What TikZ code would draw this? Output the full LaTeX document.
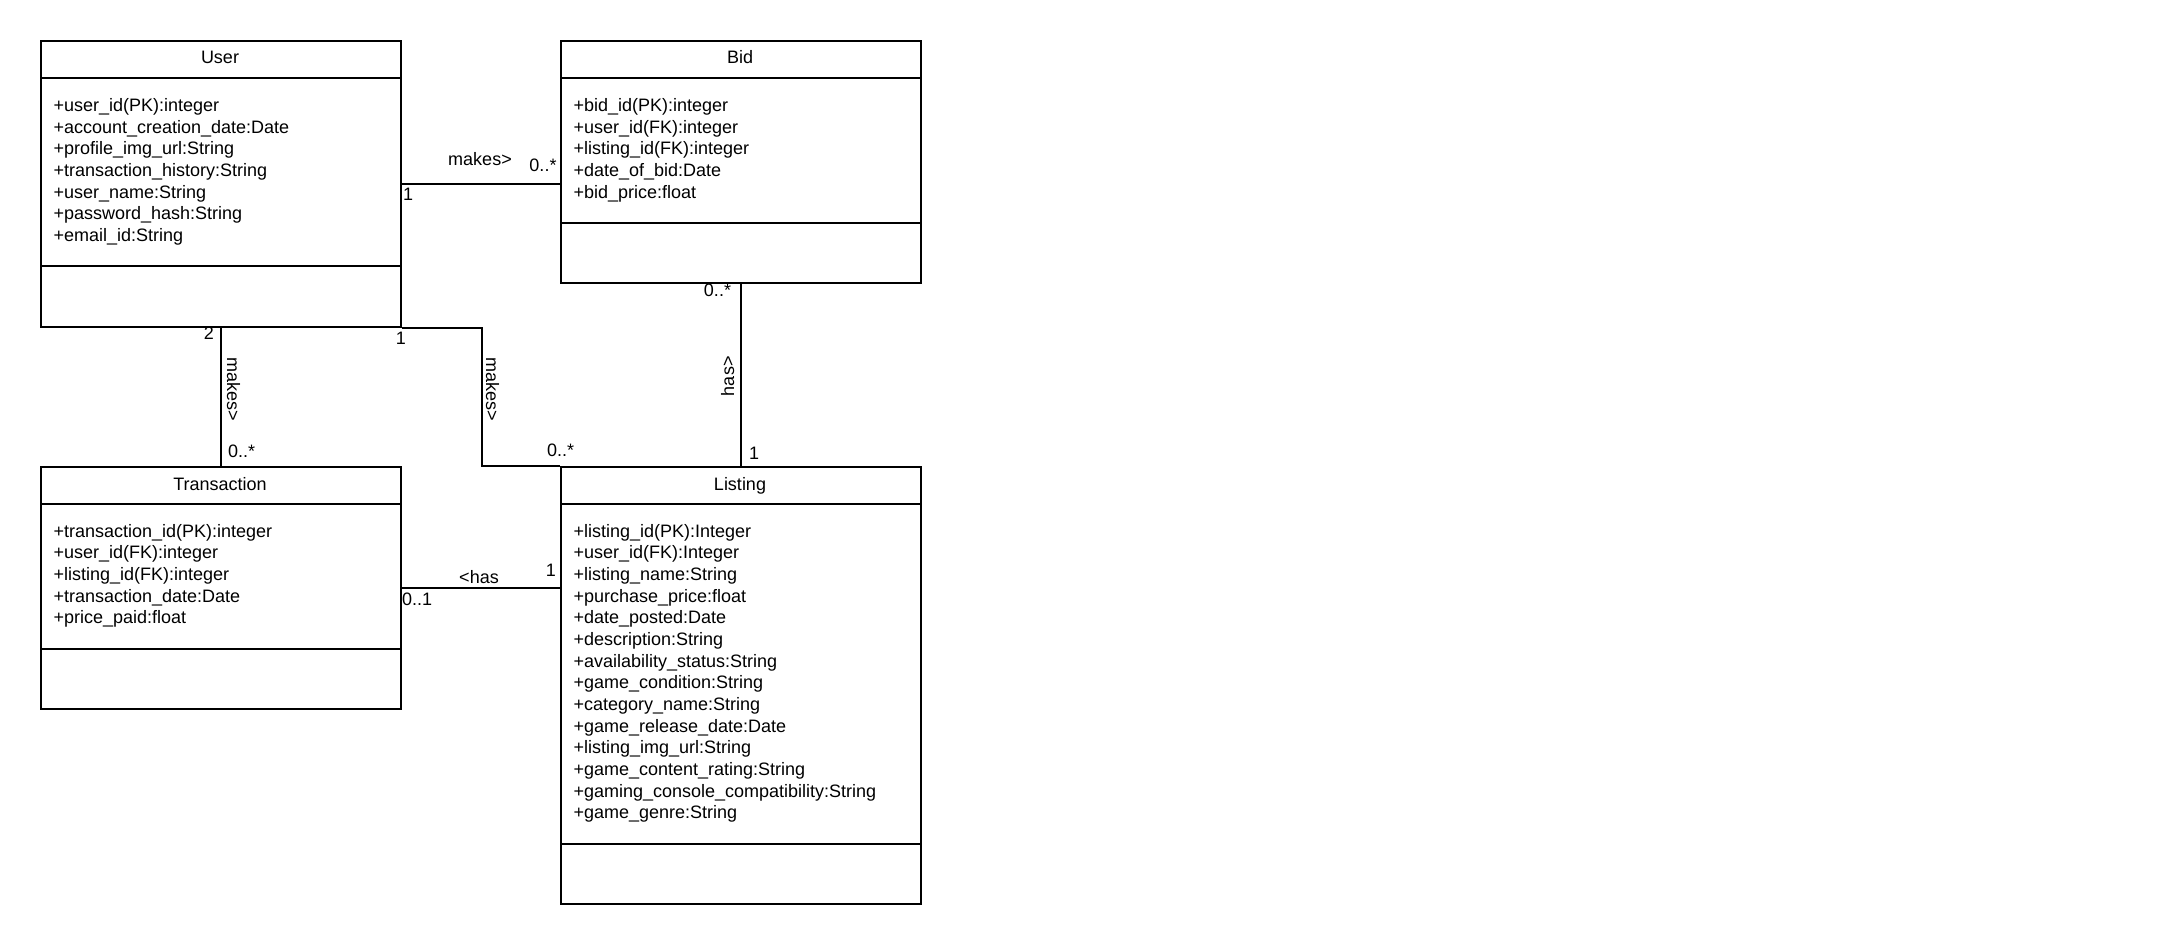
\documentclass[tikz,border=0pt]{standalone}
\usepackage{fontspec}
\setmainfont{Liberation Sans}
\begin{document}
\begin{tikzpicture}[x=1pt,y=-1pt,line width=2pt,
  classbox/.style={draw=black,line width=2pt,rectangle,minimum width=360pt,inner sep=0pt,anchor=north west},
  txt/.style={font=\fontsize{18}{21.7}\selectfont,inner sep=0pt},
  ctitle/.style={txt,anchor=base},
  attr/.style={txt,anchor=base west},
  lbl/.style={txt}]
\useasboundingbox[fill=white] (0,0) rectangle (2157,943);

% class boxes
\node[classbox,minimum height=286pt] (user) at (40,40) {};
\node[classbox,minimum height=242pt] (bid) at (560,40) {};
\node[classbox,minimum height=242pt] (trans) at (40,466) {};
\node[classbox,minimum height=437pt] (listing) at (560,466) {};

% compartments
\draw ([yshift=-38pt]user.north west) -- ([yshift=-38pt]user.north east);
\draw ([yshift=-226pt]user.north west) -- ([yshift=-226pt]user.north east);
\draw ([yshift=-38pt]bid.north west) -- ([yshift=-38pt]bid.north east);
\draw ([yshift=-183pt]bid.north west) -- ([yshift=-183pt]bid.north east);
\draw ([yshift=-38pt]trans.north west) -- ([yshift=-38pt]trans.north east);
\draw ([yshift=-183pt]trans.north west) -- ([yshift=-183pt]trans.north east);
\draw ([yshift=-38pt]listing.north west) -- ([yshift=-38pt]listing.north east);
\draw ([yshift=-378pt]listing.north west) -- ([yshift=-378pt]listing.north east);

% titles
\node[ctitle] (userT) at (220,63.5) {User};
\node[ctitle] (bidT) at (740,63.5) {Bid};
\node[ctitle] (transT) at (220,490) {Transaction};
\node[ctitle] (listingT) at (740,490) {Listing};

% attributes
\foreach \t [count=\i] in {+user\_id(PK):integer,+account\_creation\_date:Date,+profile\_img\_url:String,+transaction\_history:String,+user\_name:String,+password\_hash:String,+email\_id:String}
  \node[attr] (ua\i) at (52.5,{111.5+21.67*(\i-1)}) {\t};
\foreach \t [count=\i] in {+bid\_id(PK):integer,+user\_id(FK):integer,+listing\_id(FK):integer,+date\_of\_bid:Date,+bid\_price:float}
  \node[attr] (ba\i) at (572.5,{111.5+21.67*(\i-1)}) {\t};
\foreach \t [count=\i] in {+transaction\_id(PK):integer,+user\_id(FK):integer,+listing\_id(FK):integer,+transaction\_date:Date,+price\_paid:float}
  \node[attr] (ta\i) at (52.5,{537+21.67*(\i-1)}) {\t};
\foreach \t [count=\i] in {+listing\_id(PK):Integer,+user\_id(FK):Integer,+listing\_name:String,+purchase\_price:float,+date\_posted:Date,+description:String,+availability\_status:String,+game\_condition:String,+category\_name:String,+game\_release\_date:Date,+listing\_img\_url:String,+game\_content\_rating:String,+gaming\_console\_compatibility:String,+game\_genre:String}
  \node[attr] (la\i) at (572.5,{537+21.67*(\i-1)}) {\t};

% connectors
\draw (user.east) -- (user.east -| bid.west);
\draw (user.south) -- (trans.north);
\draw (user.south east) -- ++(80,0) |- (listing.north west);
\draw (bid.south) -- (listing.north);
\draw (trans.east) -- (trans.east -| listing.west);

% labels
\node[lbl,anchor=base] (l1) at (480,165) {makes>};
\node[lbl,anchor=base east] (l2) at (557.5,171) {0..*};
\node[lbl,anchor=base west] (l3) at (402,200.5) {1};
\node[lbl,anchor=base] (l4) at (401,344) {1};
\node[lbl,anchor=base west,rotate=-90] (l5) at (486,356) {makes>};
\node[lbl,anchor=base west] (l6) at (546,456) {0..*};
\node[lbl,anchor=base west,rotate=90] (l7) at (734,397) {has>};
\node[lbl,anchor=base east] (l8) at (732,296) {0..*};
\node[lbl,anchor=base west] (l9) at (748,459) {1};
\node[lbl,anchor=base east] (l10) at (215,339) {2};
\node[lbl,anchor=base west,rotate=-90] (l11) at (227,356) {makes>};
\node[lbl,anchor=base west] (l12) at (227,457) {0..*};
\node[lbl,anchor=base] (l13) at (479,583) {<has};
\node[lbl,anchor=base east] (l14) at (557,576) {1};
\node[lbl,anchor=base west] (l15) at (401,605) {0..1};
\end{tikzpicture}
\end{document}
